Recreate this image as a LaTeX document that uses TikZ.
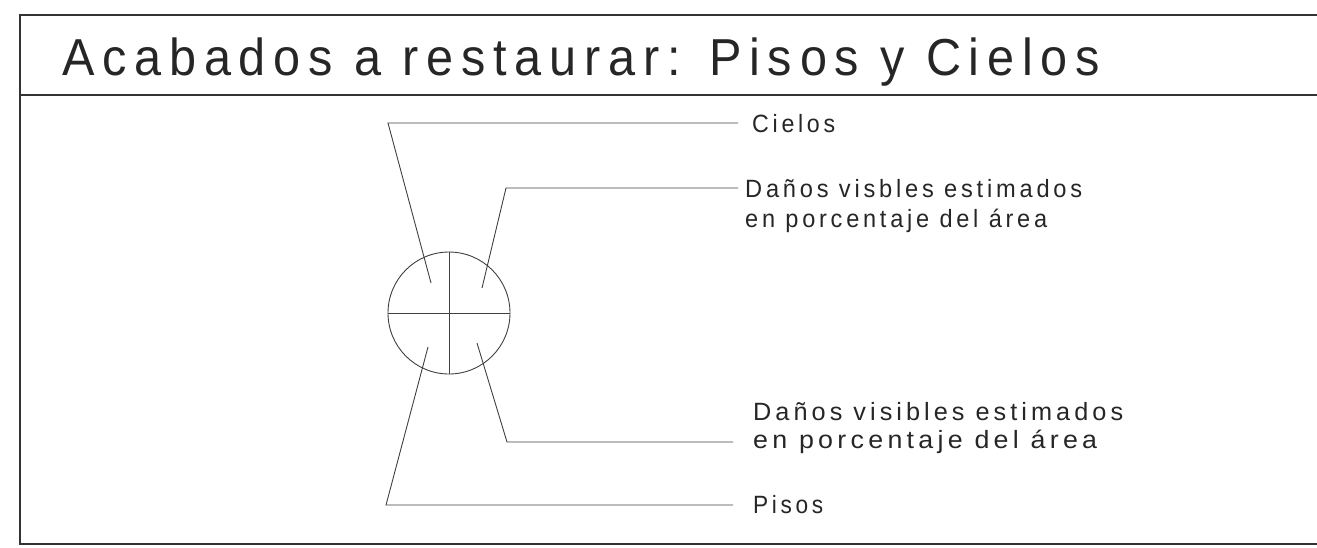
\documentclass[tikz,border=0pt]{standalone}
\usepackage{fontspec}
\setmainfont{Liberation Sans}[LetterSpace=16]
\usepackage{graphicx}
\newcommand\fitw[2]{\resizebox{#1}{\height}{#2}}
\begin{document}
\begin{tikzpicture}[x=1pt,y=-1pt,
  frame/.style={line width=2.6pt, draw=black!80},
  leader/.style={line width=0.9pt, draw=black!75},
  lbl/.style={inner sep=0pt, anchor=base west, text=black!85, font=\fontsize{25}{30}\selectfont},
  ttl/.style={inner sep=0pt, anchor=base west, text=black!85, font=\fontsize{52}{60}\selectfont}]
\useasboundingbox (0,0) rectangle (1317,547);
% frame
\draw[frame] (1317,15) -- (20,15) -- (20,544) -- (1317,544);
\draw[frame] (20,95) -- (1317,95);
% title
\node[ttl] (title) at (62,75) {\fitw{1038pt}{Acabados a restaurar: Pisos y Cielos}};
% labels
\node[lbl] (cielos) at (752,132) {\fitw{83pt}{Cielos}};
\node[lbl] (dtopa) at (745,197) {\fitw{337pt}{Daños visbles estimados}};
\node[lbl] (dtopb) at (745,227) {\fitw{302pt}{en porcentaje del área}};
\node[lbl] (dbota) at (753,420) {\fitw{370pt}{Daños visibles estimados}};
\node[lbl] (dbotb) at (753,448) {\fitw{344pt}{en porcentaje del área}};
\node[lbl] (pisos) at (753,513) {\fitw{70pt}{Pisos}};
% disc
\node[circle, draw=black!75, line width=0.9pt, minimum size=122pt, inner sep=0pt] (disc) at (449,313) {};
\draw[leader] (disc.west) -- (disc.east);
\draw[leader] (disc.north) -- (disc.south);
% leader coordinates
\coordinate (ctip) at (431,283);
\coordinate (cbend) at (388,123);
\coordinate (dttip) at (482,288);
\coordinate (dtbend) at (506,188);
\coordinate (dbtip) at (477,343);
\coordinate (dbbend) at (507,442);
\coordinate (ptip) at (428,347);
\coordinate (pbend) at (386,505);
% leaders
\draw[leader] (ctip) -- (cbend) -- ([xshift=-14pt]cbend -| cielos.west);
\draw[leader] (dttip) -- (dtbend) -- ([xshift=-7pt]dtbend -| dtopa.west);
\draw[leader] (dbtip) -- (dbbend) -- ([xshift=-20pt]dbbend -| dbotb.west);
\draw[leader] (ptip) -- (pbend) -- ([xshift=-20pt]pbend -| pisos.west);
\end{tikzpicture}
\end{document}
